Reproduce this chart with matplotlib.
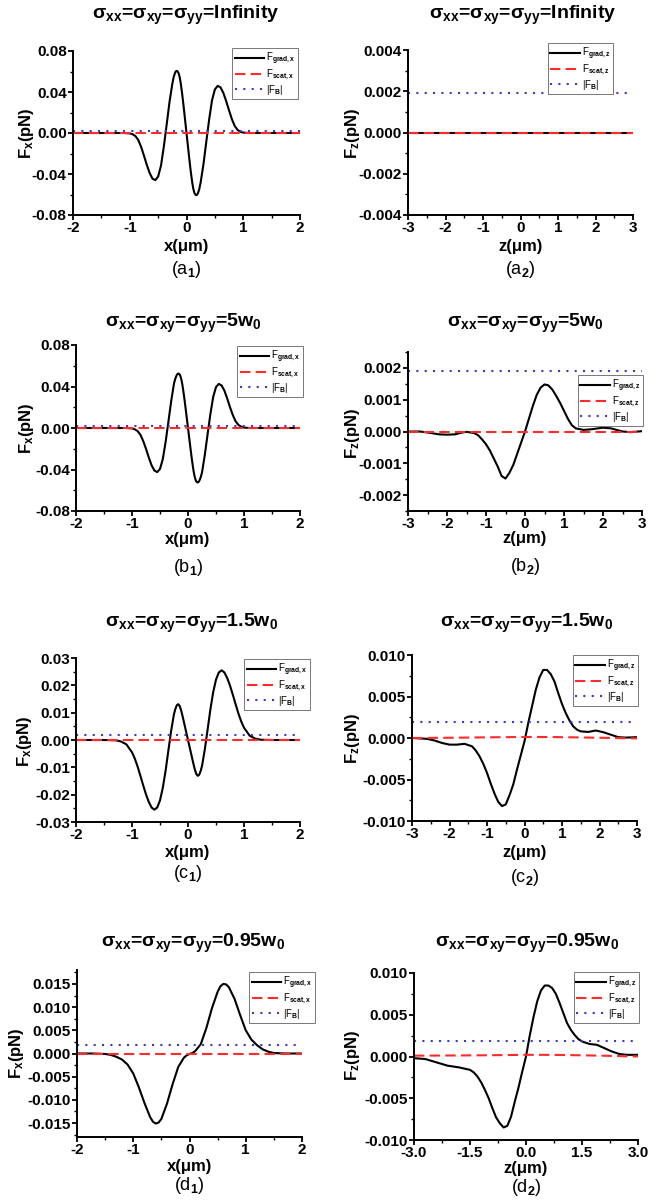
import matplotlib
matplotlib.use("Agg")
import matplotlib.pyplot as plt
from matplotlib.ticker import FormatStrFormatter, MultipleLocator

plt.rcParams['font.family'] = ['Liberation Sans', 'DejaVu Sans']
plt.rcParams['font.weight'] = 'bold'
plt.rcParams['mathtext.fontset'] = 'custom'
plt.rcParams['mathtext.rm'] = 'Liberation Sans'
plt.rcParams['mathtext.it'] = 'Liberation Sans:italic'
plt.rcParams['mathtext.bf'] = 'Liberation Sans:bold'
plt.rcParams['mathtext.default'] = 'bf'

# ---- data ----
F_B = 0.0019  # |F_B| level, same in every panel

x_ends = [-2.0, 2.0]
z_ends = [-3.0, 3.0]

# transverse force, panels a1 / b1
x_ab = [-2.0, -1.5, -1.1, -1.0, -0.95, -0.9, -0.85, -0.8, -0.75, -0.7, -0.65, -0.6, -0.55,
        -0.5, -0.45, -0.4, -0.35, -0.3, -0.25, -0.225, -0.2, -0.185, -0.17, -0.155, -0.14,
        -0.12, -0.1, -0.075, -0.05, -0.025, 0.0, 0.025, 0.05, 0.075, 0.1, 0.12, 0.14, 0.155,
        0.17, 0.185, 0.2, 0.225, 0.25, 0.3, 0.35, 0.4, 0.45, 0.5, 0.55, 0.6, 0.65, 0.7,
        0.75, 0.8, 0.85, 0.9, 0.95, 1.0, 1.1, 1.5, 2.0]
fgrad_a1 = [0, 0, 0, -0.0004, -0.0012, -0.003, -0.0068, -0.0135, -0.022, -0.031, -0.039,
            -0.0445, -0.046, -0.0425, -0.032, -0.0135, 0.008, 0.030, 0.048, 0.0548, 0.0590,
            0.0603, 0.0606, 0.0600, 0.0585, 0.0545, 0.0480, 0.0375, 0.0255, 0.0128, 0.0,
            -0.0128, -0.0255, -0.0375, -0.0480, -0.0545, -0.0585, -0.0600, -0.0606, -0.0603,
            -0.0590, -0.0548, -0.048, -0.030, -0.008, 0.0135, 0.032, 0.0425, 0.046, 0.0445,
            0.039, 0.031, 0.022, 0.0135, 0.0068, 0.003, 0.0012, 0.0004, 0, 0, 0]
fgrad_b1 = [0, 0, 0, -0.0004, -0.0012, -0.003, -0.0065, -0.0125, -0.020, -0.0285, -0.036,
            -0.041, -0.0425, -0.0395, -0.030, -0.0135, 0.006, 0.026, 0.043, 0.0478, 0.0511,
            0.0522, 0.0525, 0.0520, 0.0507, 0.0472, 0.0416, 0.0325, 0.0221, 0.0111, 0.0,
            -0.0111, -0.0221, -0.0325, -0.0416, -0.0472, -0.0507, -0.0520, -0.0525, -0.0522,
            -0.0511, -0.0478, -0.043, -0.026, -0.006, 0.0135, 0.030, 0.0395, 0.0425, 0.041,
            0.036, 0.0285, 0.020, 0.0125, 0.0065, 0.003, 0.0012, 0.0004, 0, 0, 0]

# panel c1
x_c1 = [-2.0, -1.5, -1.3, -1.2, -1.1, -1.0, -0.95, -0.9, -0.85, -0.8, -0.75, -0.7, -0.65,
        -0.6, -0.55, -0.5, -0.45, -0.4, -0.35, -0.3, -0.25, -0.225, -0.2, -0.175, -0.15,
        -0.125, -0.1, -0.05, 0.0, 0.05, 0.1, 0.125, 0.15, 0.175, 0.2, 0.225, 0.25, 0.3,
        0.35, 0.4, 0.45, 0.5, 0.55, 0.6, 0.65, 0.7, 0.75, 0.8, 0.85, 0.9, 0.95, 1.0, 1.1,
        1.2, 1.3, 1.5, 2.0]
fgrad_c1 = [0, 0, -0.0001, -0.0005, -0.0016, -0.0045, -0.0068, -0.0097, -0.0131, -0.0166,
            -0.0199, -0.0227, -0.0247, -0.0255, -0.0247, -0.0221, -0.0175, -0.0112, -0.0038,
            0.0035, 0.0095, 0.0114, 0.0127, 0.0131, 0.0125, 0.0110, 0.0090, 0.0045, 0.0,
            -0.0045, -0.0090, -0.0110, -0.0125, -0.0131, -0.0127, -0.0114, -0.0095, -0.0035,
            0.0038, 0.0112, 0.0175, 0.0221, 0.0247, 0.0255, 0.0247, 0.0227, 0.0199, 0.0166,
            0.0131, 0.0097, 0.0068, 0.0045, 0.0016, 0.0005, 0.0001, 0, 0]

# panel d1
x_d1 = [-2.0, -1.7, -1.5, -1.4, -1.3, -1.2, -1.1, -1.0, -0.9, -0.8, -0.7, -0.65, -0.6,
        -0.55, -0.5, -0.4, -0.3, -0.2, -0.1, -0.05, 0.0, 0.05, 0.1, 0.2, 0.3, 0.4, 0.5,
        0.55, 0.6, 0.65, 0.7, 0.8, 0.9, 1.0, 1.1, 1.2, 1.3, 1.4, 1.5, 1.7, 2.0]
fgrad_d1 = [0, 0, -0.0001, -0.0003, -0.0007, -0.0013, -0.0024, -0.0043, -0.0073, -0.0107,
            -0.0137, -0.0147, -0.0151, -0.0149, -0.0141, -0.0108, -0.0066, -0.0029, -0.0009,
            -0.0004, -0.0001, 0.0001, 0.0005, 0.0020, 0.0055, 0.0098, 0.0133, 0.0145, 0.0150,
            0.0149, 0.0143, 0.0118, 0.0083, 0.0050, 0.0030, 0.0018, 0.0009, 0.0004, 0.0001,
            0, 0]

# axial force, panel b2
z_b2 = [-3.0, -2.7, -2.5, -2.2, -2.0, -1.8, -1.6, -1.5, -1.3, -1.2, -1.1, -1.0, -0.9, -0.8,
        -0.7, -0.6, -0.5, -0.4, -0.3, -0.2, -0.1, 0.0, 0.1, 0.2, 0.3, 0.4, 0.5, 0.6, 0.7,
        0.8, 0.9, 1.0, 1.1, 1.2, 1.3, 1.5, 1.7, 2.0, 2.2, 2.5, 2.7, 3.0]
fgrad_b2 = [0, 0, -0.00003, -0.00009, -0.0001, -0.00009, -0.00003, -0.00001, -0.00005,
            -0.00012, -0.00025, -0.0004, -0.0006, -0.00085, -0.0011, -0.0014, -0.00148,
            -0.0013, -0.00105, -0.0007, -0.00035, 0.0, 0.0004, 0.0008, 0.00115, 0.00138,
            0.00148, 0.00145, 0.00132, 0.00112, 0.0009, 0.00065, 0.0004, 0.0002, 0.0001,
            0.00005, 0.00007, 0.00012, 0.0001, 0.0, -0.00002, 0.00001]

# panel c2
z_c2 = [-3.0, -2.6, -2.4, -2.2, -2.0, -1.8, -1.6, -1.4, -1.3, -1.2, -1.1, -1.0, -0.9, -0.8,
        -0.7, -0.6, -0.5, -0.4, -0.3, -0.2, -0.1, 0.0, 0.1, 0.2, 0.3, 0.4, 0.5, 0.6, 0.7,
        0.8, 0.9, 1.0, 1.1, 1.2, 1.3, 1.4, 1.5, 1.7, 1.9, 2.1, 2.3, 2.5, 2.7, 3.0]
fgrad_c2 = [0, -0.0001, -0.0003, -0.0006, -0.0008, -0.0008, -0.0007, -0.001, -0.0015,
            -0.0022, -0.0031, -0.0042, -0.0055, -0.0067, -0.0077, -0.0082, -0.0080, -0.0069,
            -0.0056, -0.0038, -0.0021, -0.0004, 0.0018, 0.0038, 0.0058, 0.0073, 0.0082,
            0.0082, 0.0077, 0.0068, 0.0054, 0.0041, 0.003, 0.0021, 0.0014, 0.001, 0.0008,
            0.00073, 0.0009, 0.0007, 0.0004, 0.0001, 0.00005, 0.0001]

# panel d2
z_d2 = [-3.0, -2.7, -2.4, -2.1, -1.8, -1.5, -1.4, -1.3, -1.2, -1.1, -1.0, -0.9, -0.8, -0.7,
        -0.6, -0.5, -0.4, -0.3, -0.2, -0.1, 0.0, 0.1, 0.2, 0.3, 0.4, 0.5, 0.6, 0.7, 0.8,
        0.9, 1.0, 1.1, 1.2, 1.3, 1.4, 1.5, 1.7, 1.9, 2.1, 2.3, 2.5, 2.7, 3.0]
fgrad_d2 = [-0.0002, -0.0003, -0.0007, -0.0011, -0.0013, -0.0016, -0.0019, -0.0024, -0.0031,
            -0.0040, -0.0050, -0.0062, -0.0073, -0.0080, -0.0085, -0.0083, -0.0072, -0.0054,
            -0.0037, -0.0018, 0.0, 0.0025, 0.0047, 0.0066, 0.0079, 0.0085, 0.0085, 0.0082,
            0.0075, 0.0064, 0.0052, 0.0040, 0.0032, 0.0026, 0.0021, 0.0018, 0.0015, 0.0014,
            0.0010, 0.0006, 0.0003, 0.0002, 0.0002]

# scattering force along z (tiny)
z_scat = [-3.0, -2.0, -1.0, 0.0, 0.5, 1.0, 2.0, 3.0]
fscat_c2 = [0, 0.00003, 0.00008, 0.00012, 0.00012, 0.0001, 0.00003, -0.00005]
fscat_d2 = [0.0001, 0.00012, 0.00015, 0.0002, 0.0002, 0.00018, 0.0001, 0.0]

titles = ['Infinity', '5w$_{0}$', '1.5w$_{0}$', '0.95w$_{0}$']

# ---- layout (pixel boxes: left, right, top, bottom) ----
W, H = 669, 1204
fig = plt.figure(figsize=(W / 100, H / 100), dpi=100)

c_grad = 'black'
c_scat = '#ff2a2a'
c_b = '#3a3ad0'


def add_panel(box, name, xs, grad, scat_x, scat, kind, ylim, yticks, yfmt, minor_y,
              xticks, xfmt, minor_x, leg_corner, title_xy, ylab_xy, xlab_y, lab_y, title):
    l, r, t, b = box
    ax = fig.add_axes([l / W, 1 - b / H, (r - l) / W, (b - t) / H])
    sub = 'x' if kind == 'x' else 'z'
    ends = x_ends if kind == 'x' else z_ends
    ax.plot(xs, grad, color=c_grad, lw=1.5,
            label=r'F$_\mathrm{grad,' + sub + '}$')
    ax.plot(scat_x, scat, color=c_scat, lw=1.5, ls=(0, (5, 2.5)),
            label=r'F$_\mathrm{scat,' + sub + '}$')
    ax.plot(ends, [F_B, F_B], color=c_b, lw=1.5, ls=(0, (1, 3)),
            label=r'|F$_\mathrm{B}$|')
    ax.set_xlim(ends)
    ax.set_ylim(ylim)
    ax.set_yticks(yticks)
    ax.set_xticks(xticks)
    ax.yaxis.set_major_formatter(FormatStrFormatter(yfmt))
    ax.xaxis.set_major_formatter(FormatStrFormatter(xfmt))
    ax.yaxis.set_minor_locator(MultipleLocator(minor_y))
    ax.xaxis.set_minor_locator(MultipleLocator(minor_x))
    for s in ['top', 'right']:
        ax.spines[s].set_visible(False)
    for s in ['left', 'bottom']:
        ax.spines[s].set_linewidth(1.4)
    ax.tick_params(which='major', direction='out', length=3.5, width=1.3,
                   labelsize=11, pad=1)
    ax.tick_params(which='minor', direction='out', length=2, width=1.0)

    leg = ax.legend(loc='upper right',
                    bbox_to_anchor=(leg_corner[0] / W, 1 - leg_corner[1] / H),
                    bbox_transform=fig.transFigure, borderaxespad=0,
                    prop={'weight': 'normal', 'size': 7}, handlelength=3.0,
                    handleheight=0.5, handletextpad=0.2, labelspacing=0.05,
                    borderpad=0.25, fancybox=False, framealpha=1)
    leg.get_frame().set_edgecolor('#777777')
    leg.get_frame().set_linewidth(0.7)

    fig.text(title_xy[0] / W, 1 - title_xy[1] / H,
             r'σ$_{xx}$=σ$_{xy}$=σ$_{yy}$=' + title,
             ha='center', va='center', fontsize=14, fontweight='bold')
    fig.text(ylab_xy[0] / W, 1 - ylab_xy[1] / H, r'F$_{' + sub + '}$(pN)',
             rotation=90, ha='center', va='center', fontsize=12, fontweight='bold')
    fig.text((l + r) / 2 / W, 1 - xlab_y / H, sub + '(μm)',
             ha='center', va='center', fontsize=12, fontweight='bold')
    fig.text((l + r) / 2 / W, 1 - lab_y / H, '(' + name[0] + r'$_\mathrm{' + name[1] + '}$)',
             ha='center', va='center', fontsize=13, fontweight='normal')
    return ax


xt = [-2, -1, 0, 1, 2]
zt = [-3, -2, -1, 0, 1, 2, 3]

add_panel((73, 300, 51, 215), 'a1', x_ab, fgrad_a1, x_ends, [0, 0], 'x',
          (-0.08, 0.08), [-0.08, -0.04, 0.0, 0.04, 0.08], '%.2f', 0.02,
          xt, '%g', 0.5, (298, 48), (186, 15), (27, 133), 247, 269, titles[0])
add_panel((408, 633, 50, 215), 'a2', z_ends, [0, 0], z_ends, [0, 0], 'z',
          (-0.004, 0.004), [-0.004, -0.002, 0.0, 0.002, 0.004], '%.3f', 0.001,
          zt, '%g', 0.5, (613, 43), (523, 15), (352, 133), 247, 269, titles[0])

add_panel((76, 300, 345, 511), 'b1', x_ab, fgrad_b1, x_ends, [0, 0], 'x',
          (-0.08, 0.08), [-0.08, -0.04, 0.0, 0.04, 0.08], '%.2f', 0.02,
          xt, '%g', 0.5, (303, 346), (183, 323), (27, 428), 540, 568, titles[1])
add_panel((408, 642, 352, 511), 'b2', z_b2, fgrad_b2, z_ends, [0, 0], 'z',
          (-0.0025, 0.0025), [-0.002, -0.001, 0.0, 0.001, 0.002], '%.3f', 0.0005,
          zt, '%g', 0.5, (643, 375), (525, 323), (352, 433), 539, 567, titles[1])

add_panel((76, 300, 658, 822), 'c1', x_c1, fgrad_c1, x_ends, [0, 0], 'x',
          (-0.03, 0.03), [-0.03, -0.02, -0.01, 0.0, 0.01, 0.02, 0.03], '%.2f', 0.005,
          xt, '%g', 0.5, (310, 659), (192, 623), (25, 741), 853, 874, titles[2])
add_panel((412, 637, 655, 821), 'c2', z_c2, fgrad_c2, z_scat, fscat_c2, 'z',
          (-0.010, 0.010), [-0.010, -0.005, 0.0, 0.005, 0.010], '%.3f', 0.0025,
          zt, '%g', 0.5, (638, 655), (527, 623), (352, 738), 852, 877, titles[2])

add_panel((77, 302, 970, 1137), 'd1', x_d1, fgrad_d1, x_ends, [0, 0], 'x',
          (-0.018, 0.018), [-0.015, -0.010, -0.005, 0.0, 0.005, 0.010, 0.015], '%.3f', 0.0025,
          xt, '%g', 0.5, (315, 972), (193, 943), (17, 1053), 1167, 1186, titles[3])
add_panel((414, 638, 973, 1140), 'd2', z_d2, fgrad_d2, z_scat, fscat_d2, 'z',
          (-0.010, 0.010), [-0.010, -0.005, 0.0, 0.005, 0.010], '%.3f', 0.0025,
          [-3.0, -1.5, 0.0, 1.5, 3.0], '%.1f', 0.75, (639, 972), (527, 943), (352, 1055),
          1168, 1187, titles[3])

fig.savefig('out.png', dpi=100)
